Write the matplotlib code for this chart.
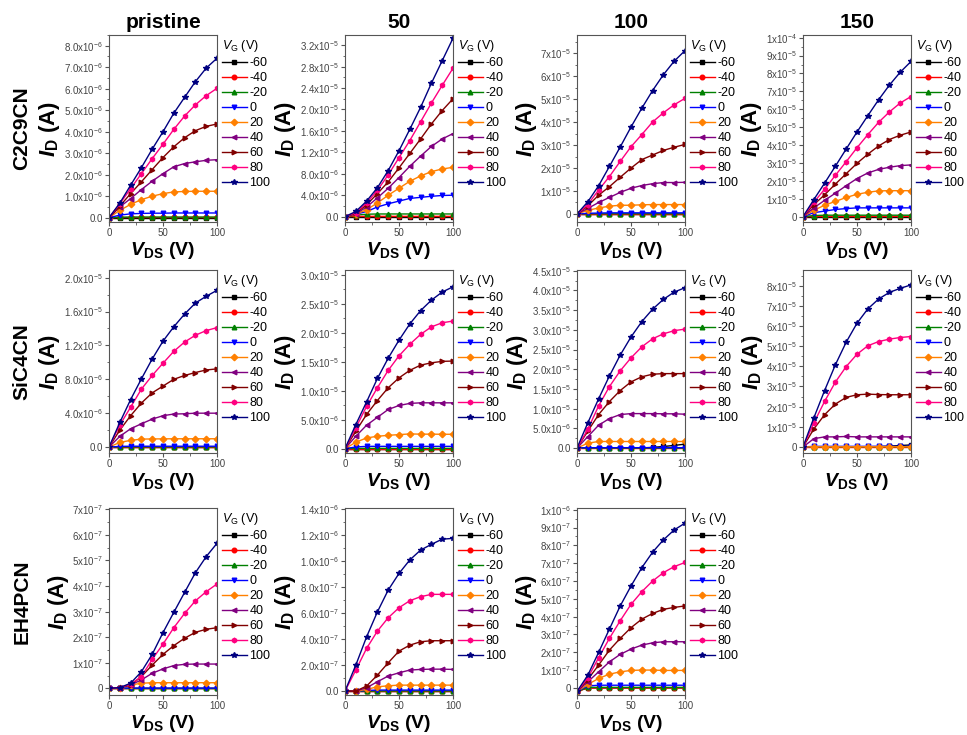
import math
import matplotlib
matplotlib.use("Agg")
import matplotlib.pyplot as plt
from matplotlib.ticker import FixedLocator, AutoMinorLocator

plt.rcParams['font.family'] = ['Liberation Sans', 'DejaVu Sans']
plt.rcParams['mathtext.fontset'] = 'custom'
plt.rcParams['mathtext.rm'] = 'Liberation Sans'
plt.rcParams['mathtext.it'] = 'Liberation Sans:italic'
plt.rcParams['mathtext.bf'] = 'Liberation Sans:bold'
plt.rcParams['mathtext.bfit'] = 'Liberation Sans:italic:bold'

# ---------------- data ----------------
VDS = [0, 10, 20, 30, 40, 50, 60, 70, 80, 90, 100]
VG = ['-60', '-40', '-20', '0', '20', '40', '60', '80', '100']
COLORS = ['#000000', '#FF0000', '#008000', '#0000FF', '#FF8000',
          '#800080', '#800000', '#FF0080', '#000080']
MARKERS = ['s', 'o', '^', 'v', 'D', '<', '>', 'h', '*']

COL_TITLES = ['pristine', '50', '100', '150']
ROW_TITLES = ['C2C9CN', 'SiC4CN', 'EH4PCN']

# C2C9CN pristine (x1e-6 A), order VG -60 ... 100
C2C9CN_pristine = [
    [0, 0, 0, 0, 0, 0, 0, 0, 0, 0, 0],
    [0, 0.01, 0.01, 0.01, 0.01, 0.01, 0.01, 0.01, 0.01, 0.01, 0.01],
    [0, 0.02, 0.03, 0.03, 0.03, 0.03, 0.03, 0.03, 0.03, 0.03, 0.03],
    [0, 0.12, 0.18, 0.20, 0.21, 0.21, 0.22, 0.22, 0.22, 0.22, 0.22],
    [0, 0.34, 0.62, 0.84, 1.00, 1.12, 1.20, 1.22, 1.23, 1.23, 1.23],
    [0, 0.50, 0.89, 1.31, 1.70, 2.05, 2.37, 2.52, 2.60, 2.67, 2.70],
    [0, 0.54, 1.12, 1.67, 2.24, 2.80, 3.30, 3.72, 4.05, 4.25, 4.36],
    [0, 0.65, 1.35, 2.05, 2.75, 3.42, 4.11, 4.73, 5.25, 5.68, 6.02],
    [0, 0.68, 1.51, 2.33, 3.19, 4.00, 4.86, 5.60, 6.33, 6.96, 7.42],
]
C2C9CN_50 = [  # x1e-6
    [0, 0, 0, 0, 0, 0, 0, 0, 0, 0, 0],
    [0, 0.05, 0.05, 0.05, 0.05, 0.05, 0.05, 0.05, 0.05, 0.05, 0.05],
    [0, 0.30, 0.45, 0.50, 0.50, 0.50, 0.50, 0.50, 0.50, 0.50, 0.50],
    [0, 0.45, 0.96, 1.80, 2.40, 2.90, 3.40, 3.60, 3.80, 3.95, 4.00],
    [0, 0.45, 1.30, 2.55, 4.00, 5.30, 6.60, 7.60, 8.40, 8.90, 9.20],
    [0, 0.50, 1.80, 3.50, 5.30, 7.30, 9.40, 11.3, 13.1, 14.5, 15.5],
    [0, 0.64, 2.20, 4.30, 6.50, 9.10, 11.8, 14.5, 17.3, 19.8, 22.0],
    [0, 0.77, 2.55, 4.90, 7.80, 11.0, 14.2, 17.7, 21.2, 24.5, 27.7],
    [0, 0.96, 2.90, 5.40, 8.60, 12.3, 16.3, 20.4, 24.9, 29.1, 33.3],
]
C2C9CN_100 = [  # x1e-5
    [0, 0, 0, 0, 0, 0, 0, 0, 0, 0, 0],
    [0, 0, 0, 0, 0, 0, 0, 0, 0, 0, 0],
    [0, 0.01, 0.01, 0.01, 0.01, 0.01, 0.01, 0.01, 0.01, 0.01, 0.01],
    [0, 0.03, 0.04, 0.05, 0.05, 0.05, 0.05, 0.05, 0.05, 0.05, 0.05],
    [0, 0.16, 0.26, 0.34, 0.38, 0.38, 0.40, 0.41, 0.41, 0.41, 0.41],
    [0, 0.24, 0.50, 0.72, 0.94, 1.12, 1.24, 1.32, 1.37, 1.37, 1.38],
    [0, 0.35, 0.82, 1.19, 1.60, 2.00, 2.37, 2.57, 2.77, 2.91, 3.03],
    [0, 0.41, 1.04, 1.63, 2.29, 2.93, 3.46, 4.01, 4.41, 4.76, 5.04],
    [0, 0.53, 1.23, 2.07, 2.92, 3.79, 4.61, 5.38, 6.07, 6.66, 7.12],
]
C2C9CN_150 = [  # x1e-5
    [0, 0, 0, 0, 0, 0, 0, 0, 0, 0, 0],
    [0, 0.01, 0.01, 0.01, 0.01, 0.01, 0.01, 0.01, 0.01, 0.01, 0.01],
    [0, 0.06, 0.08, 0.08, 0.08, 0.08, 0.08, 0.08, 0.08, 0.08, 0.08],
    [0, 0.22, 0.31, 0.40, 0.45, 0.49, 0.49, 0.49, 0.49, 0.49, 0.49],
    [0, 0.35, 0.64, 0.85, 1.07, 1.25, 1.36, 1.44, 1.45, 1.45, 1.45],
    [0, 0.49, 0.91, 1.31, 1.73, 2.13, 2.44, 2.64, 2.76, 2.85, 2.89],
    [0, 0.67, 1.22, 1.82, 2.40, 2.98, 3.49, 3.95, 4.31, 4.55, 4.73],
    [0, 0.80, 1.53, 2.31, 3.07, 3.85, 4.58, 5.27, 5.85, 6.35, 6.71],
    [0, 0.95, 1.87, 2.82, 3.78, 4.73, 5.64, 6.53, 7.35, 8.07, 8.67],
]
SiC4CN_pristine = [  # x1e-6
    [0, 0, 0, 0, 0, 0, 0, 0, 0, 0, 0],
    [0, 0, 0, 0, 0, 0, 0, 0, 0, 0, 0],
    [0, 0.02, 0.02, 0.02, 0.02, 0.02, 0.02, 0.02, 0.02, 0.02, 0.02],
    [0, 0.08, 0.10, 0.10, 0.10, 0.10, 0.10, 0.10, 0.10, 0.10, 0.10],
    [0, 0.55, 0.79, 0.94, 0.96, 0.97, 0.98, 0.98, 0.98, 0.98, 0.98],
    [0, 1.26, 2.16, 2.75, 3.30, 3.70, 3.90, 3.93, 4.00, 4.00, 4.00],
    [0, 2.00, 3.70, 5.20, 6.40, 7.20, 8.00, 8.45, 8.80, 9.10, 9.23],
    [0, 2.60, 4.70, 6.84, 8.45, 9.90, 11.3, 12.4, 13.2, 13.75, 14.1],
    [0, 2.90, 5.60, 8.05, 10.4, 12.5, 14.2, 15.7, 17.0, 17.8, 18.5],
]
SiC4CN_50 = [  # x1e-6
    [0, 0, 0, 0, 0, 0, 0, 0, 0, 0, 0],
    [0, 0, 0, 0, 0, 0, 0, 0, 0, 0, 0],
    [0, 0.05, 0.05, 0.05, 0.05, 0.05, 0.05, 0.05, 0.05, 0.05, 0.05],
    [0, 0.29, 0.40, 0.40, 0.40, 0.40, 0.40, 0.40, 0.40, 0.40, 0.40],
    [0, 1.10, 1.85, 2.13, 2.30, 2.42, 2.54, 2.50, 2.50, 2.48, 2.48],
    [0, 2.13, 4.04, 5.40, 6.75, 7.44, 7.80, 7.90, 7.90, 7.90, 7.90],
    [0, 3.00, 5.90, 8.30, 10.5, 12.2, 13.5, 14.4, 14.8, 15.05, 15.1],
    [0, 3.58, 7.30, 10.5, 13.5, 16.0, 18.0, 19.7, 21.0, 21.7, 22.0],
    [0, 4.15, 8.07, 12.1, 15.6, 18.7, 21.5, 23.8, 25.6, 27.0, 27.9],
]
SiC4CN_100 = [  # x1e-6
    [0, 0, 0, 0, 0, 0, 0.05, 0.17, 0.40, 0.67, 1.00],
    [0, 0, 0, 0, 0, 0, 0, 0, 0, 0, 0],
    [0, 0.02, 0.02, 0.02, 0.02, 0.02, 0.02, 0.02, 0.02, 0.02, 0.02],
    [0, 0.10, 0.10, 0.10, 0.10, 0.10, 0.10, 0.10, 0.10, 0.10, 0.10],
    [0, 1.25, 1.67, 1.67, 1.67, 1.67, 1.67, 1.67, 1.67, 1.67, 1.67],
    [0, 2.90, 5.80, 7.50, 8.50, 8.75, 8.75, 8.75, 8.70, 8.70, 8.60],
    [0, 4.30, 8.50, 11.8, 14.6, 16.8, 18.1, 18.75, 18.9, 18.9, 18.9],
    [0, 4.75, 10.7, 15.6, 19.6, 22.9, 25.7, 27.75, 29.0, 29.8, 30.2],
    [0, 6.40, 12.5, 18.3, 23.6, 28.2, 32.1, 35.25, 37.75, 39.6, 40.7],
]
SiC4CN_150 = [  # x1e-5
    [0, 0, 0, 0, 0, 0, 0.01, 0.02, 0.04, 0.07, 0.10],
    [0, 0, 0, 0, 0, 0, 0, 0, 0, 0, 0],
    [0, 0.01, 0.01, 0.01, 0.01, 0.01, 0.01, 0.01, 0.01, 0.01, 0.01],
    [0, 0.03, 0.03, 0.03, 0.03, 0.03, 0.03, 0.03, 0.03, 0.03, 0.03],
    [0, 0.01, 0.01, 0.01, 0.01, 0.01, 0.01, 0.01, 0.01, 0.01, 0.01],
    [0, 0.41, 0.50, 0.50, 0.52, 0.50, 0.50, 0.50, 0.50, 0.50, 0.50],
    [0, 0.89, 1.60, 2.13, 2.46, 2.59, 2.62, 2.60, 2.59, 2.59, 2.59],
    [0, 1.19, 2.26, 3.22, 3.99, 4.60, 5.02, 5.23, 5.35, 5.43, 5.48],
    [0, 1.44, 2.80, 4.08, 5.20, 6.14, 6.85, 7.34, 7.67, 7.87, 8.04],
]
EH4PCN_pristine = [  # x1e-7
    [0, 0, 0, 0, 0, 0, 0, 0, 0, 0, 0],
    [0, 0, 0, 0, 0, 0, 0, 0, 0, 0, 0],
    [0, 0, 0, 0, 0, 0, 0, 0, 0, 0, 0],
    [0, 0.01, 0.01, 0.01, 0.01, 0.01, 0.01, 0.01, 0.01, 0.01, 0.01],
    [0, 0.03, 0.13, 0.20, 0.22, 0.22, 0.22, 0.22, 0.22, 0.22, 0.22],
    [0, 0.03, 0.13, 0.33, 0.59, 0.76, 0.89, 0.94, 0.95, 0.95, 0.95],
    [0, 0.03, 0.13, 0.46, 0.91, 1.33, 1.67, 1.96, 2.19, 2.31, 2.37],
    [0, 0.03, 0.16, 0.46, 1.13, 1.73, 2.37, 2.93, 3.42, 3.78, 4.08],
    [0, 0.03, 0.20, 0.65, 1.33, 2.18, 2.97, 3.75, 4.52, 5.15, 5.67],
]
EH4PCN_50 = [  # x1e-7
    [0, 0, 0, 0, 0, 0, 0, 0, 0, 0, 0],
    [0, 0, 0, 0, 0, 0, 0, 0, 0, 0, 0],
    [0, 0, 0, 0.01, 0.01, 0.01, 0.01, 0.01, 0.01, 0.01, 0.01],
    [0, 0, 0.05, 0.08, 0.08, 0.08, 0.08, 0.08, 0.08, 0.08, 0.08],
    [0, 0, 0.13, 0.33, 0.41, 0.46, 0.46, 0.46, 0.46, 0.46, 0.46],
    [0, 0, 0.26, 0.72, 1.16, 1.41, 1.62, 1.67, 1.69, 1.69, 1.67],
    [0, 0, 0.39, 1.23, 2.18, 3.08, 3.54, 3.80, 3.88, 3.88, 3.88],
    [0, 1.62, 3.29, 4.62, 5.65, 6.42, 6.96, 7.27, 7.45, 7.45, 7.45],
    [0, 2.00, 4.18, 6.10, 7.78, 9.06, 10.1, 10.86, 11.3, 11.7, 11.76],
]
EH4PCN_100 = [  # x1e-7
    [-0.2, 0, 0, 0, 0, 0, 0, 0, 0, 0, 0],
    [-0.2, 0, 0, 0, 0, 0, 0, 0, 0, 0, 0],
    [-0.2, 0.03, 0.03, 0.03, 0.03, 0.03, 0.03, 0.03, 0.03, 0.03, 0.03],
    [-0.2, 0.11, 0.15, 0.15, 0.15, 0.15, 0.15, 0.15, 0.15, 0.15, 0.15],
    [-0.2, 0.19, 0.53, 0.77, 0.90, 0.98, 1.00, 1.00, 0.98, 0.98, 0.98],
    [-0.2, 0.34, 0.90, 1.46, 1.88, 2.18, 2.40, 2.53, 2.59, 2.59, 2.59],
    [-0.2, 0.47, 1.28, 2.12, 2.78, 3.38, 3.86, 4.18, 4.41, 4.52, 4.60],
    [-0.2, 0.56, 1.69, 2.78, 3.77, 4.69, 5.40, 6.00, 6.47, 6.81, 7.04],
    [-0.2, 0.71, 1.99, 3.30, 4.60, 5.72, 6.75, 7.62, 8.31, 8.87, 9.25],
]

# per panel: (row, col, data, unit, y ticks in unit, decimals, y limits in unit)
PANELS = [
    (0, 0, C2C9CN_pristine, 1e-6, [0, 1, 2, 3, 4, 5, 6, 7, 8], 1, (-0.2, 8.5)),
    (0, 1, C2C9CN_50, 1e-6, [0, 4, 8, 12, 16, 20, 24, 28, 32], 1, (-1.0, 33.9)),
    (0, 2, C2C9CN_100, 1e-5, [0, 1, 2, 3, 4, 5, 6, 7], 0, (-0.35, 7.8)),
    (0, 3, C2C9CN_150, 1e-5, [0, 1, 2, 3, 4, 5, 6, 7, 8, 9, 10], 0, (-0.3, 10.15)),
    (1, 0, SiC4CN_pristine, 1e-6, [0, 4, 8, 12, 16, 20], 1, (-0.7, 20.9)),
    (1, 1, SiC4CN_50, 1e-6, [0, 5, 10, 15, 20, 25, 30], 1, (-0.75, 30.8)),
    (1, 2, SiC4CN_100, 1e-6, [0, 5, 10, 15, 20, 25, 30, 35, 40, 45], 1, (-1.25, 45.2)),
    (1, 3, SiC4CN_150, 1e-5, [0, 1, 2, 3, 4, 5, 6, 7, 8], 0, (-0.3, 8.78)),
    (2, 0, EH4PCN_pristine, 1e-7, [0, 1, 2, 3, 4, 5, 6, 7], 0, (-0.26, 7.05)),
    (2, 1, EH4PCN_50, 1e-7, [0, 2, 4, 6, 8, 10, 12, 14], 1, (-0.3, 14.1)),
    (2, 2, EH4PCN_100, 1e-7, [0, 1, 2, 3, 4, 5, 6, 7, 8, 9, 10], 0, (-0.4, 10.1)),
]

# ---------------- layout (pixels) ----------------
W, H = 967, 735
COL_LEFT = [109, 345, 577, 803]
AX_W = 108
ROW_TOP = [35, 270, 508]
ROW_BOT = [222, 453, 695]


def tick_label(v, dec):
    if abs(v) < 1e-30:
        return '0.0' if dec else '0'
    e = math.floor(math.log10(abs(v)) + 1e-9)
    m = v / 10 ** e
    return ('{:.%df}' % dec).format(m) + 'x10$^{\\mathrm{%d}}$' % e


fig = plt.figure(figsize=(W / 100, H / 100), dpi=100)

for (r, c, data, unit, yt, dec, ylim) in PANELS:
    left = COL_LEFT[c] / W
    bottom = 1 - ROW_BOT[r] / H
    height = (ROW_BOT[r] - ROW_TOP[r]) / H
    ax = fig.add_axes([left, bottom, AX_W / W, height])
    for i, series in enumerate(data):
        ax.plot(VDS, [v * unit for v in series], color=COLORS[i],
                marker=MARKERS[i], markersize=3.3 if MARKERS[i] != '*' else 4.3,
                linewidth=1.0, label=VG[i])
    ax.set_xlim(0, 100)
    ax.set_ylim(ylim[0] * unit, ylim[1] * unit)
    ax.xaxis.set_major_locator(FixedLocator([0, 50, 100]))
    ax.xaxis.set_minor_locator(AutoMinorLocator(2))
    ticks = [t * unit for t in yt]
    ax.yaxis.set_major_locator(FixedLocator(ticks))
    ax.set_yticklabels([tick_label(t, dec) for t in ticks])
    ax.yaxis.set_minor_locator(AutoMinorLocator(2))
    ax.tick_params(which='major', length=3, width=0.8, labelsize=7,
                   labelcolor='#444444', color='#555555', pad=1.5)
    ax.tick_params(which='minor', length=1.8, width=0.6, color='#555555')
    for s in ax.spines.values():
        s.set_color('#555555')
        s.set_linewidth(0.8)
    ax.set_ylabel(r'$\mathbfit{I}_{\mathbf{D}}$ (A)', fontsize=16,
                  fontweight='bold', labelpad=1)
    ax.set_xlabel(r'$\mathbfit{V}_{\mathbf{DS}}$ (V)', fontsize=14,
                  fontweight='bold', labelpad=1)
    ax.legend(loc='upper left', bbox_to_anchor=(1.015, 1.0),
              title=r'$\mathit{V}_{\mathrm{G}}$ (V)', fontsize=9,
              title_fontsize=9, frameon=False, handlelength=2.0,
              handletextpad=0.2, labelspacing=0.24, borderaxespad=0,
              borderpad=0.25, alignment='left')

for c, t in enumerate(COL_TITLES):
    x = (COL_LEFT[c] + AX_W / 2) / W
    fig.text(x, 1 - 22 / H, t, ha='center', va='center',
             fontsize=15, fontweight='bold')
for r, t in enumerate(ROW_TITLES):
    y = 1 - (ROW_TOP[r] + ROW_BOT[r]) / 2 / H
    fig.text(22 / W, y, t, ha='center', va='center', rotation=90,
             fontsize=15, fontweight='bold')

fig.savefig('out.png', dpi=100)
